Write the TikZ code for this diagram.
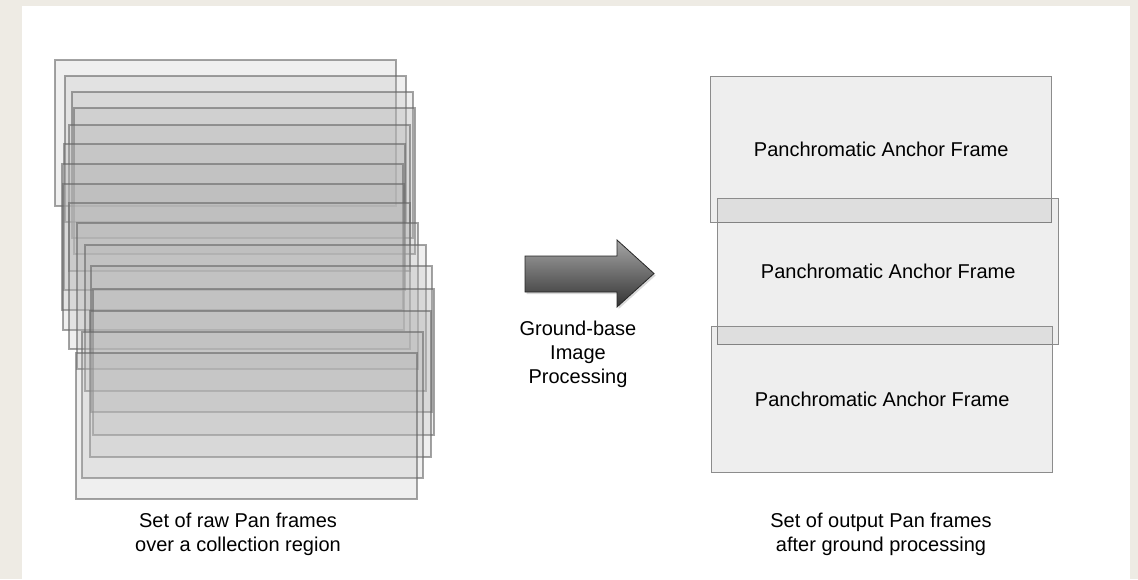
\documentclass[tikz,border=0pt]{standalone}
\usepackage{fontspec}
\setmainfont{Liberation Sans}
\usetikzlibrary{positioning, shadows}
\definecolor{creme}{HTML}{EEEBE4}
\tikzset{
    rohrahmen/.style={
        draw=black!60,        % graue Kontur
        draw opacity=0.6,
        fill=black!28,        % halbtransparente Fuellung, dunkelt bei Ueberlappung
        fill opacity=0.22,
        line width=0.8pt,
        minimum width=170.5pt,
        minimum height=73pt,
        inner sep=0pt,
        anchor=north west
    },
    ankerrahmen/.style={
        draw=black!45,
        fill=black,
        fill opacity=0.065,
        text opacity=1,
        line width=0.7pt,
        minimum width=170.5pt,
        minimum height=73pt,
        anchor=north west,
        font=\fontsize{10}{12}\selectfont
    },
    beschriftung/.style={
        align=center,
        font=\fontsize{10}{12}\selectfont
    },
    pfeil/.style={
        draw=black!85,
        line width=0.4pt,
        top color=black!35,
        bottom color=black!80,
        drop shadow={opacity=0.3, shadow xshift=0.8pt, shadow yshift=-1pt}
    }
}

\begin{document}
\begin{tikzpicture}[x=0.5pt, y=-0.5pt]

    % Hintergrund und weisse Flaeche
    \fill[creme] (0,0) rectangle (1138,579);
    \fill[white] (22,6) rectangle (1130,579);

    % Stapel der rohen Pan-Bilder (linke obere Ecke je Bild)
    \foreach \l/\t [count=\i] in {54/59, 64/75, 71/91, 73/107, 68/124, 63/143, 61/163, 62/183,
                                  68/202, 76/222, 84/244, 90/265, 92/288, 89/310, 81/331, 75/352} {
        \node[rohrahmen] (roh\i) at (\l,\t) {};
    }

    % Verarbeitungspfeil
    \path[pfeil] (525,256) -- (617,256) -- (617,240) -- (654,273.5)
        -- (617,307) -- (617,292) -- (525,292) -- cycle;
    \node[beschriftung] (verarbeitung) at (578,354) {Ground-base\\Image\\Processing};

    % Ausgabe: drei Ankerbilder
    \node[ankerrahmen] (anker1) at (710,76) {Panchromatic Anchor Frame};
    \node[ankerrahmen] (anker2) at (717,198) {Panchromatic Anchor Frame};
    \node[ankerrahmen] (anker3) at (711,326) {Panchromatic Anchor Frame};

    % Unterschriften
    \node[beschriftung] (textRoh) at (238,534) {Set of raw Pan frames\\over a collection region};
    \node[beschriftung] (textAnker) at (881,534) {Set of output Pan frames\\after ground processing};

\end{tikzpicture}
\end{document}
